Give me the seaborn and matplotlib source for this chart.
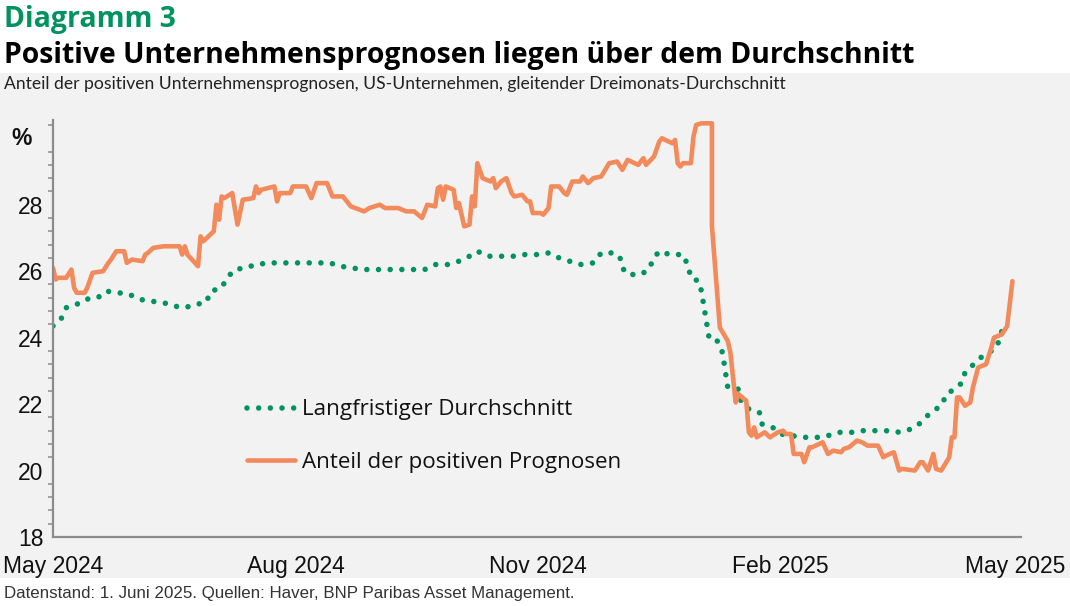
import pandas as pd
import matplotlib
matplotlib.use("Agg")
import matplotlib.pyplot as plt
import matplotlib.dates as mdates
import matplotlib.patches as mpatches
from matplotlib.ticker import MultipleLocator, FixedLocator
import seaborn as sns

# share of positive company outlooks (orange)
positive_dates = [
    "2024-05-01", "2024-05-02", "2024-05-03", "2024-05-06", "2024-05-08", "2024-05-09", "2024-05-10", "2024-05-13", "2024-05-14", "2024-05-16",
    "2024-05-20", "2024-05-22", "2024-05-23", "2024-05-25", "2024-05-28", "2024-05-29", "2024-05-31", "2024-06-04", "2024-06-05", "2024-06-06",
    "2024-06-08", "2024-06-12", "2024-06-13", "2024-06-18", "2024-06-19", "2024-06-20", "2024-06-21", "2024-06-25", "2024-06-26", "2024-06-27",
    "2024-07-01", "2024-07-02", "2024-07-03", "2024-07-04", "2024-07-05", "2024-07-08", "2024-07-10", "2024-07-12", "2024-07-16", "2024-07-17",
    "2024-07-18", "2024-07-19", "2024-07-24", "2024-07-25", "2024-07-26", "2024-07-30", "2024-07-31", "2024-08-05", "2024-08-07", "2024-08-09",
    "2024-08-13", "2024-08-15", "2024-08-19", "2024-08-22", "2024-08-27", "2024-08-29", "2024-09-02", "2024-09-04", "2024-09-09", "2024-09-12",
    "2024-09-15", "2024-09-18", "2024-09-20", "2024-09-23", "2024-09-24", "2024-09-25", "2024-09-26", "2024-09-27", "2024-09-30", "2024-10-01",
    "2024-10-02", "2024-10-04", "2024-10-06", "2024-10-07", "2024-10-08", "2024-10-09", "2024-10-11", "2024-10-14", "2024-10-15", "2024-10-16",
    "2024-10-18", "2024-10-20", "2024-10-22", "2024-10-23", "2024-10-26", "2024-10-28", "2024-10-29", "2024-10-30", "2024-11-02", "2024-11-03",
    "2024-11-05", "2024-11-06", "2024-11-09", "2024-11-11", "2024-11-12", "2024-11-14", "2024-11-17", "2024-11-18", "2024-11-20", "2024-11-22",
    "2024-11-25", "2024-11-28", "2024-12-01", "2024-12-03", "2024-12-05", "2024-12-09", "2024-12-11", "2024-12-12", "2024-12-15", "2024-12-17",
    "2024-12-18", "2024-12-22", "2024-12-23", "2024-12-24", "2024-12-25", "2024-12-26", "2024-12-29", "2024-12-30", "2024-12-31", "2025-01-02",
    "2025-01-06", "2025-01-06", "2025-01-09", "2025-01-12", "2025-01-13", "2025-01-14", "2025-01-15", "2025-01-16", "2025-01-19", "2025-01-20",
    "2025-01-21", "2025-01-22", "2025-01-23", "2025-01-26", "2025-01-28", "2025-01-31", "2025-02-02", "2025-02-03", "2025-02-05", "2025-02-06",
    "2025-02-09", "2025-02-10", "2025-02-12", "2025-02-13", "2025-02-17", "2025-02-19", "2025-02-21", "2025-02-24", "2025-02-25", "2025-02-27",
    "2025-03-02", "2025-03-04", "2025-03-06", "2025-03-10", "2025-03-12", "2025-03-13", "2025-03-16", "2025-03-18", "2025-03-19", "2025-03-24",
    "2025-03-26", "2025-03-27", "2025-03-29", "2025-03-31", "2025-04-01", "2025-04-03", "2025-04-06", "2025-04-07", "2025-04-08", "2025-04-09",
    "2025-04-10", "2025-04-12", "2025-04-14", "2025-04-15", "2025-04-17", "2025-04-20", "2025-04-22", "2025-04-23", "2025-04-26", "2025-04-28",
    "2025-04-30",
]
positive_values = [
    26.1, 25.75, 25.8, 25.8, 26.05, 25.5, 25.35, 25.35, 25.5, 25.95,
    26.0, 26.25, 26.35, 26.6, 26.6, 26.25, 26.35, 26.3, 26.5, 26.55,
    26.7, 26.75, 26.75, 26.75, 26.5, 26.75, 26.5, 26.15, 27.05, 26.9,
    27.2, 28.0, 27.55, 28.25, 28.2, 28.35, 27.4, 28.15, 28.2, 28.55,
    28.35, 28.45, 28.55, 28.1, 28.35, 28.35, 28.55, 28.55, 28.2, 28.65,
    28.65, 28.25, 28.25, 27.95, 27.8, 27.9, 28.0, 27.9, 27.9, 27.8,
    27.8, 27.6, 28.0, 27.95, 28.5, 28.55, 28.15, 28.55, 28.45, 27.9,
    28.05, 27.35, 27.4, 28.25, 27.95, 29.25, 28.8, 28.7, 28.8, 28.5,
    28.7, 28.8, 28.35, 28.25, 28.3, 28.1, 28.1, 27.75, 27.75, 27.7,
    27.9, 28.55, 28.55, 28.35, 28.3, 28.7, 28.7, 28.85, 28.65, 28.8,
    28.85, 29.25, 29.3, 29.05, 29.35, 29.2, 29.4, 29.2, 29.45, 29.9,
    30.0, 29.85, 29.95, 29.25, 29.15, 29.25, 29.25, 30.05, 30.4, 30.45,
    30.45, 27.35, 24.3, 23.9, 23.55, 22.8, 22.05, 22.3, 22.1, 21.15,
    21.05, 21.3, 21.0, 21.15, 21.0, 21.15, 21.2, 21.1, 21.1, 20.5,
    20.5, 20.25, 20.7, 20.7, 20.85, 20.5, 20.6, 20.55, 20.65, 20.7,
    20.9, 20.85, 20.75, 20.75, 20.4, 20.45, 20.55, 20.0, 20.05, 20.0,
    20.25, 20.25, 20.0, 20.5, 20.05, 20.0, 20.4, 21.0, 21.0, 22.2,
    22.2, 21.95, 22.05, 22.5, 23.1, 23.2, 23.7, 24.0, 24.1, 24.35,
    25.7,
]

# long-term average (green, dotted)
average_dates = [
    "2024-05-01", "2024-05-04", "2024-05-06", "2024-05-10", "2024-05-13", "2024-05-18", "2024-05-21", "2024-05-26", "2024-05-30", "2024-06-03",
    "2024-06-07", "2024-06-12", "2024-06-16", "2024-06-20", "2024-06-24", "2024-06-28", "2024-06-30", "2024-07-04", "2024-07-06", "2024-07-09",
    "2024-07-13", "2024-07-17", "2024-07-22", "2024-07-27", "2024-07-31", "2024-08-05", "2024-08-09", "2024-08-14", "2024-08-18", "2024-08-22",
    "2024-08-27", "2024-09-01", "2024-09-05", "2024-09-10", "2024-09-14", "2024-09-19", "2024-09-23", "2024-09-28", "2024-10-02", "2024-10-06",
    "2024-10-09", "2024-10-13", "2024-10-18", "2024-10-23", "2024-10-27", "2024-11-01", "2024-11-05", "2024-11-09", "2024-11-13", "2024-11-17",
    "2024-11-22", "2024-11-25", "2024-11-29", "2024-12-02", "2024-12-03", "2024-12-05", "2024-12-10", "2024-12-13", "2024-12-15", "2024-12-17",
    "2024-12-21", "2024-12-26", "2024-12-28", "2024-12-29", "2025-01-01", "2025-01-02", "2025-01-05", "2025-01-08", "2025-01-10", "2025-01-12",
    "2025-01-16", "2025-01-17", "2025-01-20", "2025-01-24", "2025-01-25", "2025-01-29", "2025-02-01", "2025-02-05", "2025-02-10", "2025-02-15",
    "2025-02-19", "2025-02-23", "2025-02-28", "2025-03-04", "2025-03-09", "2025-03-13", "2025-03-17", "2025-03-21", "2025-03-25", "2025-03-28",
    "2025-03-31", "2025-04-03", "2025-04-05", "2025-04-08", "2025-04-11", "2025-04-12", "2025-04-18", "2025-04-24", "2025-04-26",
]
average_values = [
    24.35, 24.55, 24.9, 25.0, 25.15, 25.2, 25.4, 25.35, 25.3, 25.15,
    25.1, 25.05, 24.95, 24.9, 25.0, 25.05, 25.4, 25.5, 25.8, 26.05,
    26.1, 26.2, 26.25, 26.25, 26.25, 26.25, 26.25, 26.25, 26.15, 26.1,
    26.05, 26.05, 26.05, 26.05, 26.05, 26.05, 26.2, 26.2, 26.3, 26.45,
    26.6, 26.45, 26.45, 26.45, 26.5, 26.5, 26.55, 26.4, 26.3, 26.2,
    26.25, 26.55, 26.55, 26.45, 26.1, 25.9, 25.9, 26.05, 26.4, 26.6,
    26.5, 26.5, 26.15, 25.8, 25.7, 25.4, 23.95, 23.9, 23.55, 22.5,
    22.45, 22.1, 21.85, 21.75, 21.4, 21.3, 21.1, 21.05, 21.0, 21.0,
    21.05, 21.15, 21.15, 21.2, 21.2, 21.2, 21.15, 21.2, 21.35, 21.6,
    21.8, 21.95, 22.3, 22.45, 22.65, 22.95, 23.4, 23.7, 24.2,
]

label_average = "Langfristiger Durchschnitt"
label_positive = "Anteil der positiven Prognosen"

c_green = "#00935F"
c_orange = "#F28A5B"
c_grey = "#8C8C8C"
c_bg = "#F2F2F2"

df_pos = pd.DataFrame({"date": pd.to_datetime(positive_dates), "value": positive_values})
df_avg = pd.DataFrame({"date": pd.to_datetime(average_dates), "value": average_values})

sns.set_theme(style="white")
plt.rcParams["font.family"] = ["Open Sans", "DejaVu Sans"]
tick_font = ["Liberation Sans", "DejaVu Sans"]

W, H = 1070, 606
fig = plt.figure(figsize=(W / 100, H / 100), dpi=100)
fig.patch.set_facecolor("white")

# grey panel behind subtitle + chart
panel = mpatches.Rectangle((0, 1 - 578 / H), 1, (578 - 73) / H,
                           transform=fig.transFigure, facecolor=c_bg,
                           edgecolor="none", zorder=-10)
fig.add_artist(panel)

ax = fig.add_axes([53 / W, 1 - 537 / H, (1021 - 53) / W, (537 - 120) / H])
ax.set_facecolor("none")
ax.set_zorder(1)

sns.lineplot(data=df_avg, x="date", y="value", ax=ax, color=c_green,
             estimator=None, sort=False, linewidth=4,
             linestyle=(0, (0.001, 2.1)), dash_capstyle="round",
             label=label_average)
sns.lineplot(data=df_pos, x="date", y="value", ax=ax, color=c_orange,
             estimator=None, sort=False, linewidth=3.3,
             solid_joinstyle="round", label=label_positive)

ax.set_xlim(pd.Timestamp("2024-05-01"), pd.Timestamp("2025-05-03 06:00"))
ax.set_ylim(18, 30.55)

ax.xaxis.set_major_locator(mdates.MonthLocator(bymonth=[2, 5, 8, 11]))
ax.xaxis.set_major_formatter(mdates.DateFormatter("%b %Y"))
ax.yaxis.set_major_locator(FixedLocator([18, 20, 22, 24, 26, 28, 30]))
ax.set_yticklabels(["18", "20", "22", "24", "26", "28", ""])
ax.yaxis.set_minor_locator(MultipleLocator(0.4))

ax.set_xlabel("")
ax.set_ylabel("")

for side in ["top", "right"]:
    ax.spines[side].set_visible(False)
for side in ["left", "bottom"]:
    ax.spines[side].set_color(c_grey)
    ax.spines[side].set_linewidth(1.6)

ax.tick_params(axis="both", which="both", direction="out", color=c_grey,
               width=1.1, labelcolor="#111111")
ax.tick_params(axis="y", which="major", length=5.5, pad=1.5, labelsize=16.5)
ax.tick_params(axis="y", which="minor", length=3.5, left=True)
ax.tick_params(axis="x", which="major", length=6, pad=7, labelsize=16.5)
for lab in ax.get_xticklabels() + ax.get_yticklabels():
    lab.set_fontfamily(tick_font)

ax.text(-0.032, 30, "%", transform=ax.get_yaxis_transform(), ha="center",
        va="center", fontsize=16.5, fontweight="bold", color="#111111",
        family=tick_font)

leg = ax.legend(loc="center left", bbox_to_anchor=((247 - 53) / 968, (537 - 436) / 417),
                frameon=False, fontsize=16.1, handlelength=2.15, handletextpad=0.3,
                labelspacing=1.4, borderpad=0, borderaxespad=0)
for t in leg.get_texts():
    t.set_color("#111111")

fig.text(4 / W, 1 - 27 / H, "Diagramm 3", fontsize=20.4, fontweight="bold",
         color=c_green, va="baseline", ha="left")
fig.text(4 / W, 1 - 63 / H, "Positive Unternehmensprognosen liegen über dem Durchschnitt",
         fontsize=20.4, fontweight="bold", color="#000000", va="baseline", ha="left")
fig.text(4 / W, 1 - 88.5 / H,
         "Anteil der positiven Unternehmensprognosen, US-Unternehmen, gleitender Dreimonats-Durchschnitt",
         fontsize=12.6, color="#222222", va="baseline", ha="left",
         family=["Lato", "DejaVu Sans"])
fig.text(4 / W, 1 - 598 / H,
         "Datenstand: 1. Juni 2025. Quellen: Haver, BNP Paribas Asset Management.",
         fontsize=12.2, color="#333333", va="baseline", ha="left", family=tick_font)

fig.savefig("out.png", dpi=100, facecolor=fig.get_facecolor())
